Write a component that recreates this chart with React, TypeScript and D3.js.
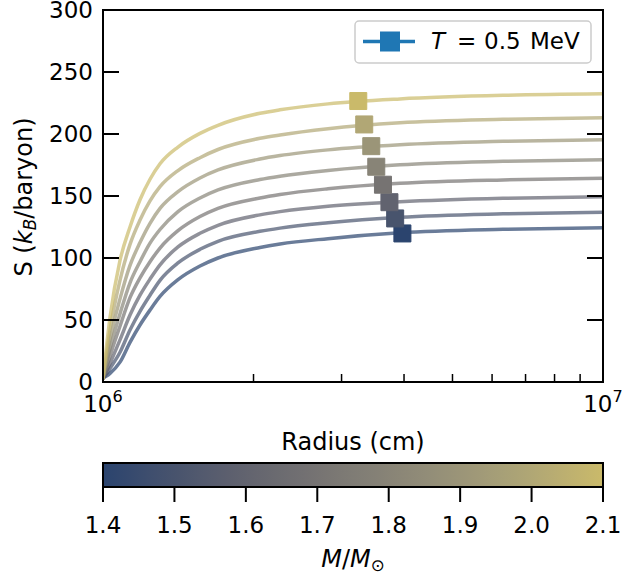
import React from "react";
import * as d3 from "d3";

const radii = [1.0e6, 1.0139e6, 1.0328e6, 1.0814e6, 1.1324e6, 1.1858e6, 1.2417e6, 1.3002e6, 1.4125e6, 1.5631e6, 1.6982e6, 2.0606e6, 2.2594e6, 2.8184e6, 3.9264e6, 6.3096e6, 1.0e7];

const masses = [1.4, 1.5, 1.6, 1.7, 1.8, 1.9, 2.0, 2.1];

const s14 = [3, 4.5, 7, 16, 32, 46, 58, 69, 82.5, 93.5, 100, 108.5, 111.3, 115.6, 120.3, 123.1, 124.4];
const s15 = [3, 6, 11, 24, 42, 57, 70, 82, 96, 107, 113.5, 121.5, 124.1, 128.4, 132.8, 135.6, 136.9];
const s16 = [3, 7.5, 15, 34, 54, 70, 83, 94.5, 108.9, 119.9, 126.4, 134.8, 137.4, 141.7, 145.3, 148.1, 149.4];
const s17 = [3, 10, 21, 45, 68, 84, 97, 108, 122, 133.4, 140, 148.4, 151.2, 155.8, 160.2, 163, 164.3];
const s18 = [3, 13, 27, 55, 80, 97, 112, 123, 137.4, 148.4, 154.9, 163.3, 166, 170.6, 175.2, 178, 179.3];
const s19 = [3, 16, 34, 67, 94, 112.5, 128, 140, 153.5, 164.5, 171, 179.8, 182.6, 187.2, 191.3, 194.1, 195.4];
const s20 = [3, 20, 42, 82, 111, 130.6, 146, 157.5, 170.5, 180.9, 187.5, 196.5, 199.2, 204.2, 209, 211.8, 213.1];
const s21 = [3, 25, 52, 98, 125, 147, 163.5, 176, 189.5, 200.5, 207, 216.7, 219.5, 224.3, 228.3, 231.2, 232.4];

const entropySeries = [s14, s15, s16, s17, s18, s19, s20, s21];

// T = 0.5 MeV points
const markerRadius = [3.97e6, 3.84e6, 3.74e6, 3.63e6, 3.52e6, 3.44e6, 3.33e6, 3.24e6];
const markerEntropy = [119.8, 131.9, 145, 159.1, 173.6, 190.2, 207.7, 226.6];

const yTicks = [0, 50, 100, 150, 200, 250, 300];
const xMinorTicks = [2e6, 3e6, 4e6, 5e6, 6e6, 7e6, 8e6, 9e6];
const cbTicks = [1.4, 1.5, 1.6, 1.7, 1.8, 1.9, 2.0, 2.1];

const W = 624;
const H = 575;
const L = 103, R = 603, T = 10, B = 382;
const CB_T = 463, CB_B = 487;
const FONT = "DejaVu Sans, sans-serif";
const FS = 23;
const FL = 24;

const x = d3.scaleLog().domain([1e6, 1e7]).range([L, R]);
const y = d3.scaleLinear().domain([0, 300]).range([B, T]);
const cbX = d3.scaleLinear().domain([1.4, 2.1]).range([L, R]);
const T0 = 0.2, T1 = 0.8;
const color = (m: number) => d3.interpolateCividis(T0 + ((m - 1.4) / 0.7) * (T1 - T0));

const line = d3
  .line<number>()
  .x((_, i) => x(radii[i]))
  .y((d) => y(d))
  .curve(d3.curveMonotoneX);

export default function App() {
  const stops = d3.range(0, 21).map((i) => i / 20);
  const ms = 17;
  const lms = 19;
  return (
    <svg width={W} height={H} style={{ position: "absolute", left: 0, top: 0, background: "white" }} fontFamily={FONT}>
      <defs>
        <linearGradient id="cb" x1="0" x2="1" y1="0" y2="0">
          {stops.map((s) => (
            <stop key={s} offset={s} stopColor={color(1.4 + s * 0.7)} />
          ))}
        </linearGradient>
        <clipPath id="plot">
          <rect x={L} y={T} width={R - L} height={B - T} />
        </clipPath>
      </defs>
      <g clipPath="url(#plot)">
        {entropySeries.map((s, i) => (
          <path key={i} d={line(s) || ""} fill="none" stroke={color(masses[i])} strokeOpacity={0.7} strokeWidth={3.5} strokeLinecap="round" />
        ))}
      </g>
      {markerRadius.map((r, i) => (
        <rect key={i} x={x(r) - ms / 2} y={y(markerEntropy[i]) - ms / 2} width={ms} height={ms} fill={color(masses[i])} stroke={color(masses[i])} strokeWidth={1} strokeLinejoin="round" />
      ))}
      {/* y ticks */}
      {yTicks.map((t) => (
        <g key={t}>
          <line x1={L} x2={L + 16} y1={y(t)} y2={y(t)} stroke="black" strokeWidth={2} />
          <line x1={R - 16} x2={R} y1={y(t)} y2={y(t)} stroke="black" strokeWidth={2} />
          <text x={L - 10} y={y(t) + 8.4} textAnchor="end" fontSize={FS}>{t}</text>
        </g>
      ))}
      {xMinorTicks.map((t) => (
        <line key={t} x1={x(t)} x2={x(t)} y1={B} y2={B - 8} stroke="black" strokeWidth={1.5} />
      ))}
      <rect x={L} y={T} width={R - L} height={B - T} fill="none" stroke="black" strokeWidth={2} />
      {[1e6, 1e7].map((t, i) => (
        <text key={t} x={x(t)} y={412} textAnchor="middle" fontSize={FS}>
          10<tspan fontSize={FS * 0.7} dy={-10}>{i === 0 ? "6" : "7"}</tspan>
        </text>
      ))}
      <text x={(L + R) / 2} y={450} textAnchor="middle" fontSize={FL}>Radius (cm)</text>
      <text transform={`translate(32, ${(T + B) / 2 + 1}) rotate(-90)`} textAnchor="middle" fontSize={FL}>
        S (<tspan fontStyle="italic">k</tspan><tspan fontStyle="italic" fontSize={FL * 0.7} dy={4}>B</tspan><tspan dy={-4}>/baryon)</tspan>
      </text>
      {/* legend */}
      <rect x={355} y={21} width={236} height={42} rx={4} fill="white" fillOpacity={0.8} stroke="#cccccc" strokeWidth={1.5} />
      <line x1={363} x2={415} y1={41.5} y2={41.5} stroke="#1f77b4" strokeWidth={3.5} />
      <rect x={390 - lms / 2} y={41.5 - lms / 2} width={lms} height={lms} fill="#1f77b4" stroke="#1f77b4" strokeWidth={1} />
      <text x={431} y={48.5} fontSize={FS} fontStyle="italic">T</text>
      <text x={457} y={48.5} fontSize={FS}>=</text>
      <text x={484} y={48.5} fontSize={FS}>0.5</text>
      <text x={530} y={48.5} fontSize={FS}>MeV</text>
      {/* colorbar */}
      <rect x={L} y={CB_T} width={R - L} height={CB_B - CB_T} fill="url(#cb)" stroke="black" strokeWidth={2} />
      {cbTicks.map((t) => (
        <g key={t}>
          <line x1={cbX(t)} x2={cbX(t)} y1={CB_B} y2={CB_B + 15} stroke="black" strokeWidth={2} />
          <text x={cbX(t)} y={533} textAnchor="middle" fontSize={FS}>{t.toFixed(1)}</text>
        </g>
      ))}
      <text x={(L + R) / 2} y={567} textAnchor="middle" fontSize={FL}>
        <tspan fontStyle="italic">M</tspan>/<tspan fontStyle="italic">M</tspan><tspan fontSize={FL * 0.7} dy={4}>⊙</tspan>
      </text>
    </svg>
  );
}
